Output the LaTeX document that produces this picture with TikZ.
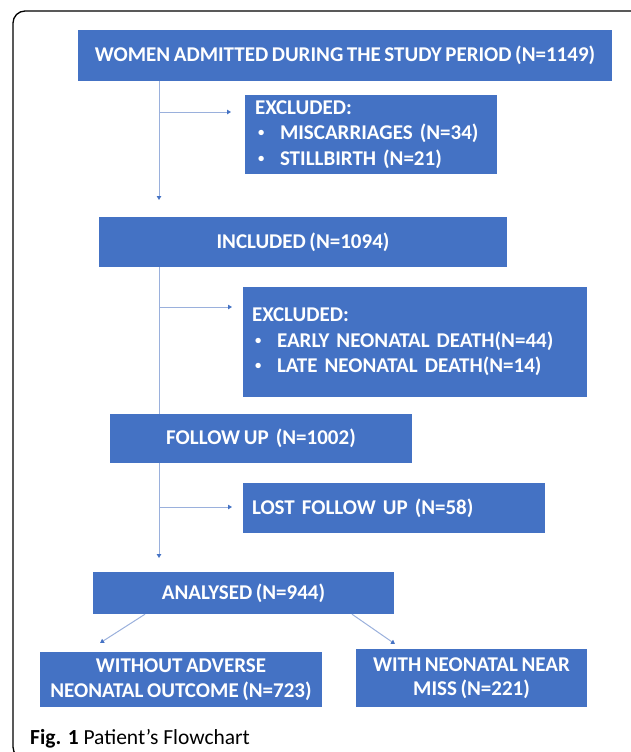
\documentclass[tikz,border=0pt]{standalone}
\usepackage{fontspec}
\usepackage{graphicx}
\setmainfont[WordSpace=0.75]{Carlito}
\newfontfamily\captionfont{Carlito}
\usetikzlibrary{arrows.meta}
\definecolor{boxblue}{HTML}{4472C4}
\definecolor{lineblue}{HTML}{9AB0DC}
\newcommand{\bul}{\makebox[25pt][l]{\hspace{3pt}\raisebox{0.3ex}{\scalebox{0.6}{•}}}}
\tikzset{
  flowbox/.style={fill=boxblue, text=white, inner sep=0pt, align=center,
    font=\fontsize{21}{24.5}\selectfont\bfseries},
  listbox/.style={flowbox, align=left, font=\fontsize{21}{25.5}\selectfont\bfseries},
  link/.style={lineblue, line width=1pt},
  linkarrow/.style={link, -{Triangle[length=4pt,width=4.5pt,color=boxblue]}}
}
\begin{document}
\begin{tikzpicture}[x=1pt, y=-1pt]
            \useasboundingbox (0,0) rectangle (631,752);
            \draw[black, line width=1.3pt, rounded corners=12pt] (640,11) -- (13,11) -- (13,759) -- (40,759);

            \node[flowbox, minimum width=534pt, minimum height=51pt] (women) at (345,55.5) {WOMEN ADMITTED DURING THE STUDY PERIOD (N=1149)};
            \node[listbox, inner xsep=10pt, text width=232pt, minimum height=79pt] (exclone) at (371,134.5) {EXCLUDED:\\\bul MISCARRIAGES (N=34)\\\bul STILLBIRTH (N=21)};
            \node[flowbox, minimum width=408pt, minimum height=50pt] (included) at (303,242) {INCLUDED (N=1094)};
            \node[listbox, inner xsep=9pt, text width=326pt, minimum height=110pt] (excltwo) at (415,342) {EXCLUDED:\\\bul EARLY NEONATAL DEATH(N=44)\\\bul LATE NEONATAL DEATH(N=14)};
            \node[flowbox, minimum width=302pt, minimum height=49pt] (follow) at (261,438.5) {FOLLOW UP\ \ (N=1002)};
            \node[listbox, inner xsep=9pt, text width=284pt, minimum height=50pt] (lost) at (394,508) {LOST FOLLOW UP (N=58)};
            \node[flowbox, minimum width=301pt, minimum height=42pt] (analysed) at (243.5,593) {ANALYSED (N=944)};
            \node[flowbox, minimum width=282pt, minimum height=55pt] (without) at (181,679.5) {WITHOUT ADVERSE\\NEONATAL OUTCOME (N=723)};
            \node[flowbox, minimum width=231pt, minimum height=58pt] (with) at (471.5,678) {WITH NEONATAL NEAR\\MISS (N=221)};

            \coordinate (topend) at (159,200);
            \coordinate (topfork) at (159,112);
            \coordinate (topside) at (231,112);
            \coordinate (midtrunk) at (159,300);
            \coordinate (midfork) at (159,307);
            \coordinate (midside) at (232,307);
            \coordinate (lowend) at (159,558);
            \coordinate (lowfork) at (159,507);
            \coordinate (lowside) at (232,507);
            \coordinate (leftstart) at (145,0);
            \coordinate (leftend) at (100,643);
            \coordinate (rightstart) at (352,0);
            \coordinate (rightend) at (395,644);

            \draw[linkarrow] (women.south -| topend) -- (topend);
            \draw[linkarrow] (topfork) -- (topside);
            \draw[link] (included.south -| midtrunk) -- (follow.north -| midtrunk);
            \draw[linkarrow] (midfork) -- (midside);
            \draw[linkarrow] (follow.south -| lowend) -- (lowend);
            \draw[linkarrow] (lowfork) -- (lowside);
            \draw[linkarrow] (analysed.south -| leftstart) -- (leftend);
            \draw[linkarrow] (analysed.south -| rightstart) -- (rightend);

            \node[anchor=base west, inner sep=0pt, font=\captionfont\fontsize{21.5}{24}\selectfont] (caption) at (30,744) {\textbf{Fig. 1} Patient’s Flowchart};
        \end{tikzpicture}
\end{document}
